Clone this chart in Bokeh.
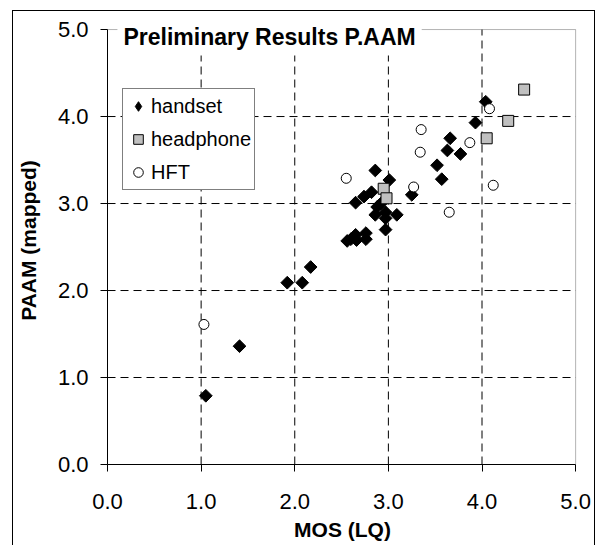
import numpy as np
from bokeh.plotting import figure
from bokeh.models import (Range1d, FixedTicker, PrintfTickFormatter, Label,
                          BoxAnnotation, Legend, LegendItem)
from bokeh.embed import file_html
from bokeh.resources import INLINE

# ---- data ----
handset_x = [1.05, 1.41, 1.92, 2.08, 2.17, 2.56, 2.60, 2.65, 2.66, 2.76, 2.76,
             2.65, 2.74, 2.82, 2.86, 3.01, 2.88, 2.86, 2.97, 2.92, 2.97, 3.09,
             2.97, 3.25, 3.52, 3.57, 3.63, 3.66, 3.77, 3.93, 4.04]
handset_y = [0.79, 1.36, 2.09, 2.09, 2.27, 2.57, 2.59, 2.64, 2.58, 2.59, 2.66,
             3.01, 3.08, 3.13, 3.38, 3.27, 2.96, 2.87, 2.90, 3.00, 2.83, 2.87,
             2.70, 3.10, 3.44, 3.28, 3.61, 3.75, 3.57, 3.93, 4.17]
headphone_x = [2.95, 2.98, 4.05, 4.28, 4.45]
headphone_y = [3.17, 3.06, 3.75, 3.95, 4.31]
hft_x = [1.03, 2.55, 3.27, 3.34, 3.35, 3.65, 3.87, 4.08, 4.12]
hft_y = [1.61, 3.29, 3.19, 3.59, 3.85, 2.90, 3.70, 4.09, 3.21]
tick_values = [0, 1, 2, 3, 4, 5]
grid_values = [1, 2, 3, 4]
title_text = "Preliminary Results P.AAM"
x_title = "MOS (LQ)"
y_title = "PAAM (mapped)"
series_names = ["handset", "headphone", "HFT"]

FONT = "Liberation Sans"
AX_MIN, AX_MAX = tick_values[0], tick_values[-1]

p = figure(width=583, height=535, output_backend="svg", toolbar_location=None,
           x_range=Range1d(AX_MIN, 5.02), y_range=Range1d(AX_MIN, 5.15),
           min_border_left=90, min_border_right=19, min_border_top=5,
           min_border_bottom=82)
p.margin = (10, 0, 0, 12)
p.styles = {"border-left": "1px solid black", "border-top": "1px solid black",
            "border-right": "1px solid black"}
p.background_fill_color = "white"
p.border_fill_color = "white"
p.outline_line_color = None
p.xgrid.visible = False
p.ygrid.visible = False

for ax in (p.xaxis[0], p.yaxis[0]):
    ax.ticker = FixedTicker(ticks=tick_values)
    ax.formatter = PrintfTickFormatter(format="%.1f")
    ax.bounds = (AX_MIN, AX_MAX)
    ax.major_label_text_font = FONT
    ax.major_label_text_font_size = "22px"
    ax.major_label_text_color = "black"
    ax.axis_label_text_font = FONT
    ax.axis_label_text_font_style = "bold"
    ax.axis_label_text_font_size = "21px"
    ax.axis_label_text_color = "black"
    ax.axis_line_color = "black"
    ax.major_tick_line_color = "black"
    ax.major_tick_in = 0
    ax.major_tick_out = 7
    ax.minor_tick_line_color = None

p.xaxis.axis_label = x_title
p.yaxis.axis_label = y_title
p.xaxis.major_label_standoff = 22
p.yaxis.major_label_standoff = 12
p.xaxis.axis_label_standoff = 6
p.yaxis.axis_label_standoff = 15

# dashed grid lines, limited to the 0..5 plot area
n = len(grid_values)
p.segment(x0=grid_values, y0=[AX_MIN] * n, x1=grid_values, y1=[AX_MAX] * n,
          line_color="black", line_width=1, line_dash="8 5")
p.segment(x0=[AX_MIN] * n, y0=grid_values, x1=[AX_MAX] * n, y1=grid_values,
          line_color="black", line_width=1, line_dash="8 5")

r1 = p.scatter(handset_x, handset_y, marker="square", angle=np.pi / 4, size=9,
               fill_color="black", line_color="black")
r1_leg = p.scatter(handset_x, handset_y, marker="diamond", size=10,
                   fill_color="black", line_color="black")
r1_leg.visible = False
r2 = p.scatter(headphone_x, headphone_y, marker="square", size=11,
               fill_color="#c0c0c0", line_color="black", line_width=1)
r3 = p.scatter(hft_x, hft_y, marker="circle", size=10,
               fill_color="white", line_color="black", line_width=1)

# plot-area frame
plot_frame = BoxAnnotation(left=AX_MIN, right=AX_MAX, bottom=AX_MIN, top=AX_MAX,
                           fill_color=None, fill_alpha=0, line_color="black",
                           line_width=1)
p.add_layout(plot_frame)

legend = Legend(items=[LegendItem(label=series_names[0], renderers=[r1_leg]),
                       LegendItem(label=series_names[1], renderers=[r2]),
                       LegendItem(label=series_names[2], renderers=[r3])],
                location=(15, 274))
legend.border_line_color = "black"
legend.border_line_width = 1
legend.background_fill_color = "white"
legend.background_fill_alpha = 1
legend.label_text_font = FONT
legend.label_text_font_size = "20px"
legend.label_text_color = "black"
legend.glyph_height = 28
legend.glyph_width = 24
legend.label_height = 28
legend.spacing = 5
legend.padding = 3
legend.margin = 0
legend.label_standoff = 1
p.add_layout(legend)

title = Label(x=0.106, y=4.92, text=title_text, text_font=FONT,
              text_font_style="bold", text_font_size="23px", text_color="black",
              text_baseline="alphabetic",
              background_fill_color="white", background_fill_alpha=1.0,
              padding=6)
p.add_layout(title)

open("out.html", "w").write(file_html(p, INLINE))
